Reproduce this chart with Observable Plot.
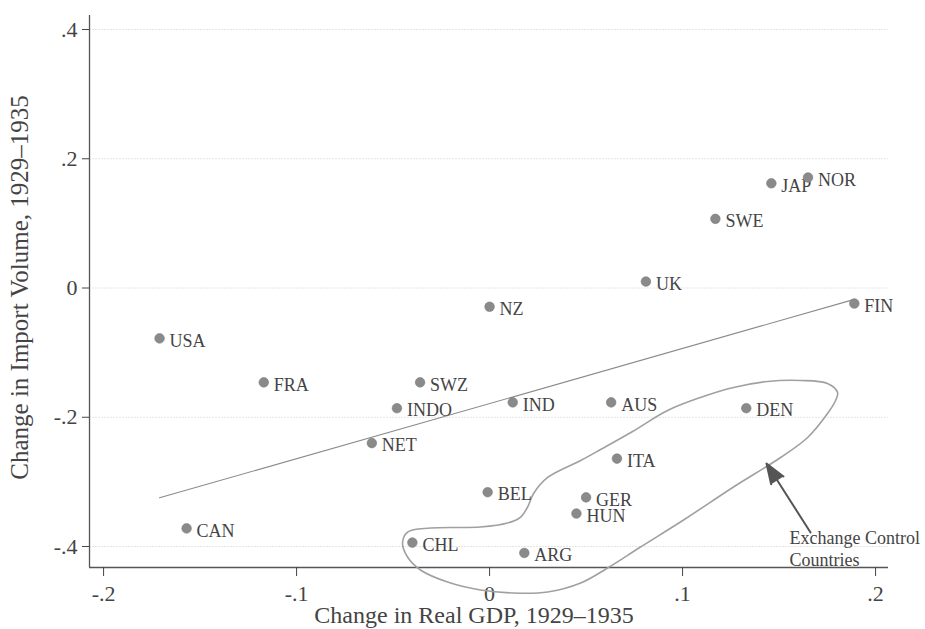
<!DOCTYPE html>
<html><head><meta charset="utf-8">
<script src="https://cdn.jsdelivr.net/npm/d3@7"></script>
<script src="https://cdn.jsdelivr.net/npm/@observablehq/plot@0.6"></script>
<style>body{margin:0;background:#fff} svg{display:block}</style>
</head><body><div id="chart"></div>
<script>
// Countries and values (change 1929–1935)
const countries    = ["USA","FRA","CAN","NET","NZ","SWZ","INDO","IND","AUS","ITA","BEL","GER","HUN","CHL","ARG","DEN","UK","SWE","JAP","NOR","FIN"];
const gdpChange    = [-0.171,-0.117,-0.157,-0.061,0.000,-0.036,-0.048,0.012,0.063,0.066,-0.001,0.050,0.045,-0.040,0.018,0.133,0.081,0.117,0.146,0.165,0.189];
const importChange = [-0.078,-0.146,-0.372,-0.240,-0.029,-0.146,-0.186,-0.177,-0.177,-0.264,-0.316,-0.324,-0.349,-0.394,-0.410,-0.186,0.010,0.107,0.162,0.171,-0.024];

// Axes
const xDomain = [-0.2073, 0.2067];
const yDomain = [-0.4325, 0.4217];
const xTicks = [-0.2,-0.1,0,0.1,0.2];
const xTickLabels = ["-.2","-.1","0",".1",".2"];
const yTicks = [-0.4,-0.2,0,0.2,0.4];
const yTickLabels = ["-.4","-.2","0",".2",".4"];
const xTitle = "Change in Real GDP, 1929–1935";
const yTitle = "Change in Import Volume, 1929–1935";

// Hand-drawn enclosure around exchange-control countries (data units)
const enclosureX = [0.1803,0.1751,0.1611,0.1440,0.1264,0.1093,0.0922,0.0741,0.0575,0.0472,0.0301,0.0228,0.0197,0.0161,0.0093,-0.0047,-0.0306,-0.0425,-0.0451,-0.0425,-0.0358,-0.0218,-0.0047,0.0124,0.0301,0.0472,0.0611,0.0782,0.1005,0.1264,0.1508,0.1648,0.1751,0.1793];
const enclosureY = [-0.1617,-0.1478,-0.1431,-0.1447,-0.1540,-0.1694,-0.1896,-0.2220,-0.2499,-0.2669,-0.2932,-0.3180,-0.3389,-0.3544,-0.3637,-0.3698,-0.3714,-0.3776,-0.3946,-0.4163,-0.4364,-0.4550,-0.4673,-0.4720,-0.4704,-0.4565,-0.4333,-0.4008,-0.3590,-0.3079,-0.2623,-0.2313,-0.1942,-0.1741];

// Annotation
const arrowFrom = [0.1663, -0.3783];
const arrowTo   = [0.1435, -0.2716];
const noteText  = "Exchange Control\nCountries";
const notePos   = [0.1554, -0.3737];

const data = countries.map((c, i) => ({name: c, x: gdpChange[i], y: importChange[i]}));
const enclosure = enclosureX.map((x, i) => ({x, y: enclosureY[i]}));

const chart = Plot.plot({
  width: 925, height: 629,
  marginLeft: 89, marginRight: 37, marginTop: 15, marginBottom: 62,
  style: {fontFamily: "'Liberation Serif', 'Times New Roman', serif", fontSize: "18px", color: "#444", background: "#fff"},
  x: {domain: xDomain},
  y: {domain: yDomain},
  marks: [
    Plot.gridY(yTicks, {stroke: "#e4e4e4", strokeOpacity: 1, strokeDasharray: "2,1"}),
    Plot.ruleX([xDomain[0]], {stroke: "#555", strokeWidth: 1.3}),
    Plot.ruleY([yDomain[0]], {stroke: "#555", strokeWidth: 1.3}),
    Plot.axisX({ticks: xTicks, tickFormat: d => xTickLabels[xTicks.indexOf(d)], tickSize: 9, tickPadding: 9, fontSize: 22, label: null, color: "#444"}),
    Plot.axisY({ticks: yTicks, tickFormat: d => yTickLabels[yTicks.indexOf(d)], tickSize: 7, tickPadding: 5, fontSize: 22, label: null, color: "#444"}),
    Plot.linearRegressionY(data, {x: "x", y: "y", ci: 0, stroke: "#8a8a8a", strokeWidth: 1.1}),
    Plot.line(enclosure, {x: "x", y: "y", curve: "catmull-rom-closed", stroke: "#a0a0a0", strokeWidth: 1.6}),
    Plot.arrow([0], {x1: () => arrowFrom[0], y1: () => arrowFrom[1], x2: () => arrowTo[0], y2: () => arrowTo[1], stroke: "#555", fill: "#555", strokeWidth: 2, headLength: 16, headAngle: 40}),
    Plot.text(data, {x: "x", y: "y", text: "name", textAnchor: "start", dx: 10, dy: 2.5, fontSize: 18, fill: "#444"}),
    Plot.dot(data, {x: "x", y: "y", r: 4.8, fill: "#8a8a8a", stroke: "#7a7a7a", strokeWidth: 0.6}),
    Plot.text([noteText], {x: () => notePos[0], y: () => notePos[1], textAnchor: "start", lineAnchor: "top", lineHeight: 1.17, fontSize: 18, fill: "#444"}),
    Plot.text([xTitle], {frameAnchor: "bottom", textAnchor: "middle", lineAnchor: "middle", dx: -15, dy: 47.5, fontSize: 24, fill: "#444"}),
    Plot.text([yTitle], {frameAnchor: "left", textAnchor: "middle", lineAnchor: "middle", rotate: -90, dx: -70, dy: -4, fontSize: 25, fill: "#444"})
  ]
});
document.getElementById("chart").appendChild(chart);
</script>
</body></html>
